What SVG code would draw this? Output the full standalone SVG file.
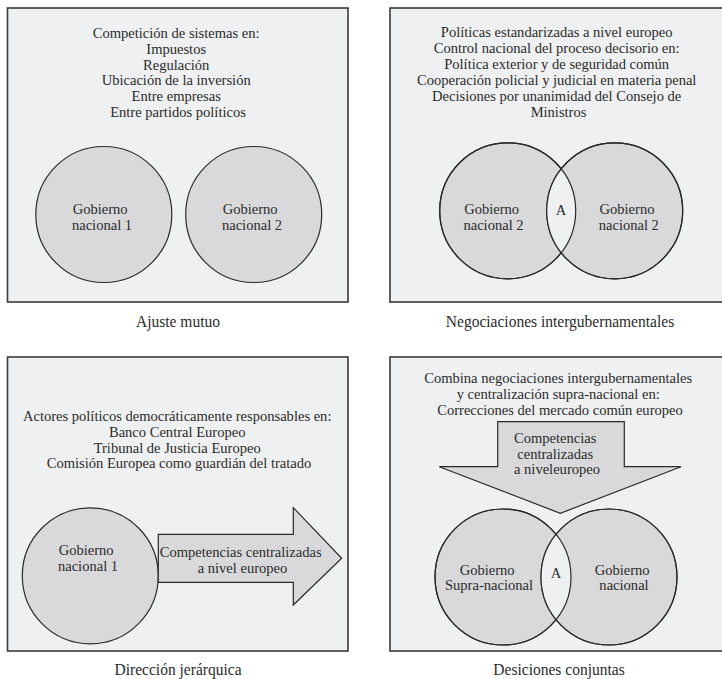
<svg xmlns="http://www.w3.org/2000/svg" width="722" height="679" viewBox="0 0 722 679">
<style>
  .bg{fill:#ffffff}
  .box{fill:#eff0f1;stroke:#3a3a3a;stroke-width:1.6}
  .circ{fill:#d9d9db;stroke:#2a2a2a;stroke-width:1.2}
  .lens{fill:#eff0f1;stroke:none}
  .ring{fill:none;stroke:#2a2a2a;stroke-width:1.2}
  .arrow{fill:#d9d9db;stroke:#2a2a2a;stroke-width:1.2;stroke-linejoin:miter}
  .t{font-family:"Liberation Serif","DejaVu Serif",serif;font-size:14px;fill:#2b2b2b;text-anchor:middle}
  .cap{font-family:"Liberation Serif","DejaVu Serif",serif;font-size:16px;fill:#2b2b2b;text-anchor:middle}
</style>
<rect class="bg" x="0" y="0" width="722" height="679"/>

<!-- Panel 1: Ajuste mutuo -->
<g id="panel-ajuste-mutuo">
  <rect class="box" x="7.5" y="8" width="340.5" height="294"/>
  <text class="t" transform="translate(178 0) scale(1.04 1)">
    <tspan x="0" y="38.3">Competición de sistemas en:</tspan>
    <tspan x="0" y="54">Impuestos</tspan>
    <tspan x="0" y="69.7">Regulación</tspan>
    <tspan x="0" y="85.4">Ubicación de la inversión</tspan>
    <tspan x="0" y="101.1">Entre empresas</tspan>
    <tspan x="0" y="116.8">Entre partidos políticos</tspan>
  </text>
</g>
<g id="node-gob-nacional-1-a">
  <circle class="circ" cx="103.8" cy="214.5" r="68"/>
  <text class="t" transform="translate(102 0) scale(1.04 1)">
    <tspan x="0" y="214.5">Gobierno</tspan>
    <tspan x="0" y="230.5">nacional 1</tspan>
  </text>
</g>
<g id="node-gob-nacional-2-a">
  <circle class="circ" cx="253.7" cy="214.5" r="68"/>
  <text class="t" transform="translate(252 0) scale(1.04 1)">
    <tspan x="0" y="214.5">Gobierno</tspan>
    <tspan x="0" y="230.5">nacional 2</tspan>
  </text>
</g>
<text class="cap" transform="translate(178 0) scale(0.97 1)" x="0" y="327.5">Ajuste mutuo</text>

<!-- Panel 2: Negociaciones intergubernamentales -->
<g id="panel-negociaciones">
  <rect class="box" x="390" y="8" width="345" height="294"/>
  <text class="t" transform="translate(558.5 0) scale(1.04 1)">
    <tspan x="0" y="36.7">Políticas estandarizadas a nivel europeo</tspan>
    <tspan x="0" y="52.7">Control nacional del proceso decisorio en:</tspan>
    <tspan x="0" y="68.7">Política exterior y de seguridad común</tspan>
    <tspan x="0" y="84.7">Cooperación policial y judicial en materia penal</tspan>
    <tspan x="0" y="100.7">Decisiones por unanimidad del Consejo de</tspan>
    <tspan x="0" y="116.7">Ministros</tspan>
  </text>
</g>
<g id="node-venn-negociaciones">
  <circle class="circ" cx="507.7" cy="210.8" r="68"/>
  <circle class="circ" cx="614.7" cy="210.8" r="68"/>
  <path class="lens" d="M561.2 168.8 A68 68 0 0 1 561.2 252.8 A68 68 0 0 1 561.2 168.8 Z"/>
  <circle class="ring" cx="507.7" cy="210.8" r="68"/>
  <circle class="ring" cx="614.7" cy="210.8" r="68"/>
  <text class="t" transform="translate(493.5 0) scale(1.04 1)">
    <tspan x="0" y="214.5">Gobierno</tspan>
    <tspan x="0" y="230.5">nacional 2</tspan>
  </text>
  <text class="t" transform="translate(628.8 0) scale(1.04 1)">
    <tspan x="0" y="214.5">Gobierno</tspan>
    <tspan x="0" y="230.5">nacional 2</tspan>
  </text>
  <text class="t" transform="translate(561 0) scale(1.04 1)" x="0" y="215">A</text>
</g>
<text class="cap" transform="translate(560 0) scale(0.97 1)" x="0" y="327.5">Negociaciones intergubernamentales</text>

<!-- Panel 3: Dirección jerárquica -->
<g id="panel-direccion">
  <rect class="box" x="7.5" y="357" width="340.5" height="294"/>
  <text class="t" transform="translate(179 0) scale(1.04 1)">
    <tspan x="0" y="421">Actores políticos democráticamente responsables en:</tspan>
    <tspan x="0" y="436.8">Banco Central Europeo</tspan>
    <tspan x="0" y="452.6">Tribunal de Justicia Europeo</tspan>
    <tspan x="0" y="468.4">Comisión Europea como guardián del tratado</tspan>
  </text>
</g>
<g id="node-gob-nacional-1-c">
  <circle class="circ" cx="90.3" cy="575.8" r="68"/>
  <text class="t" transform="translate(88 0) scale(1.04 1)">
    <tspan x="0" y="555.5">Gobierno</tspan>
    <tspan x="0" y="571.5">nacional 1</tspan>
  </text>
</g>
<text class="cap" transform="translate(178 0) scale(0.97 1)" x="0" y="675">Dirección jerárquica</text>

<!-- Panel 4: Desiciones conjuntas -->
<g id="panel-desiciones">
  <rect class="box" x="390" y="357" width="345" height="294"/>
  <text class="t" transform="translate(560 0) scale(1.04 1)">
    <tspan x="0" y="383.3">Combina negociaciones intergubernamentales</tspan>
    <tspan x="0" y="399.3">y centralización supra-nacional en:</tspan>
    <tspan x="0" y="415.3">Correcciones del mercado común europeo</tspan>
  </text>
</g>
<g id="node-venn-desiciones">
  <circle class="circ" cx="503" cy="577" r="68"/>
  <circle class="circ" cx="609" cy="577" r="68"/>
  <path class="lens" d="M556 534.4 A68 68 0 0 1 556 619.6 A68 68 0 0 1 556 534.4 Z"/>
  <circle class="ring" cx="503" cy="577" r="68"/>
  <circle class="ring" cx="609" cy="577" r="68"/>
  <text class="t" transform="translate(489 0) scale(1.04 1)">
    <tspan x="0" y="575">Gobierno</tspan>
    <tspan x="0" y="590.5">Supra-nacional</tspan>
  </text>
  <text class="t" transform="translate(624 0) scale(1.04 1)">
    <tspan x="0" y="575">Gobierno</tspan>
    <tspan x="0" y="590.5">nacional</tspan>
  </text>
  <text class="t" transform="translate(556 0) scale(1.04 1)" x="0" y="578">A</text>
</g>
<text class="cap" transform="translate(559 0) scale(0.97 1)" x="0" y="675">Desiciones conjuntas</text>

<!-- Connectors: block arrows -->
<g id="connectors">
  <g id="arrow-centralizadas-right">
    <polygon class="arrow" points="158.3,534.3 293.3,534.3 293.3,507.7 341.7,558.3 293.3,605 293.3,582.3 158.3,582.3"/>
    <text class="t" transform="translate(242.5 0) scale(1.04 1)">
      <tspan x="0" y="556.7">Competencias centralizadas</tspan>
      <tspan x="0" y="572.7">a nivel europeo</tspan>
    </text>
  </g>
  <g id="arrow-centralizadas-down">
    <polygon class="arrow" points="497.7,421.7 624.3,421.7 624.3,466.7 681,466.7 560.3,513.3 439.3,466.7 497.7,466.7"/>
    <text class="t" transform="translate(557 0) scale(1.04 1)">
      <tspan x="0" y="443.3">Competencias</tspan>
      <tspan x="0" y="458.8">centralizadas</tspan>
      <tspan x="0" y="474.3">a niveleuropeo</tspan>
    </text>
  </g>
</g>
</svg>
